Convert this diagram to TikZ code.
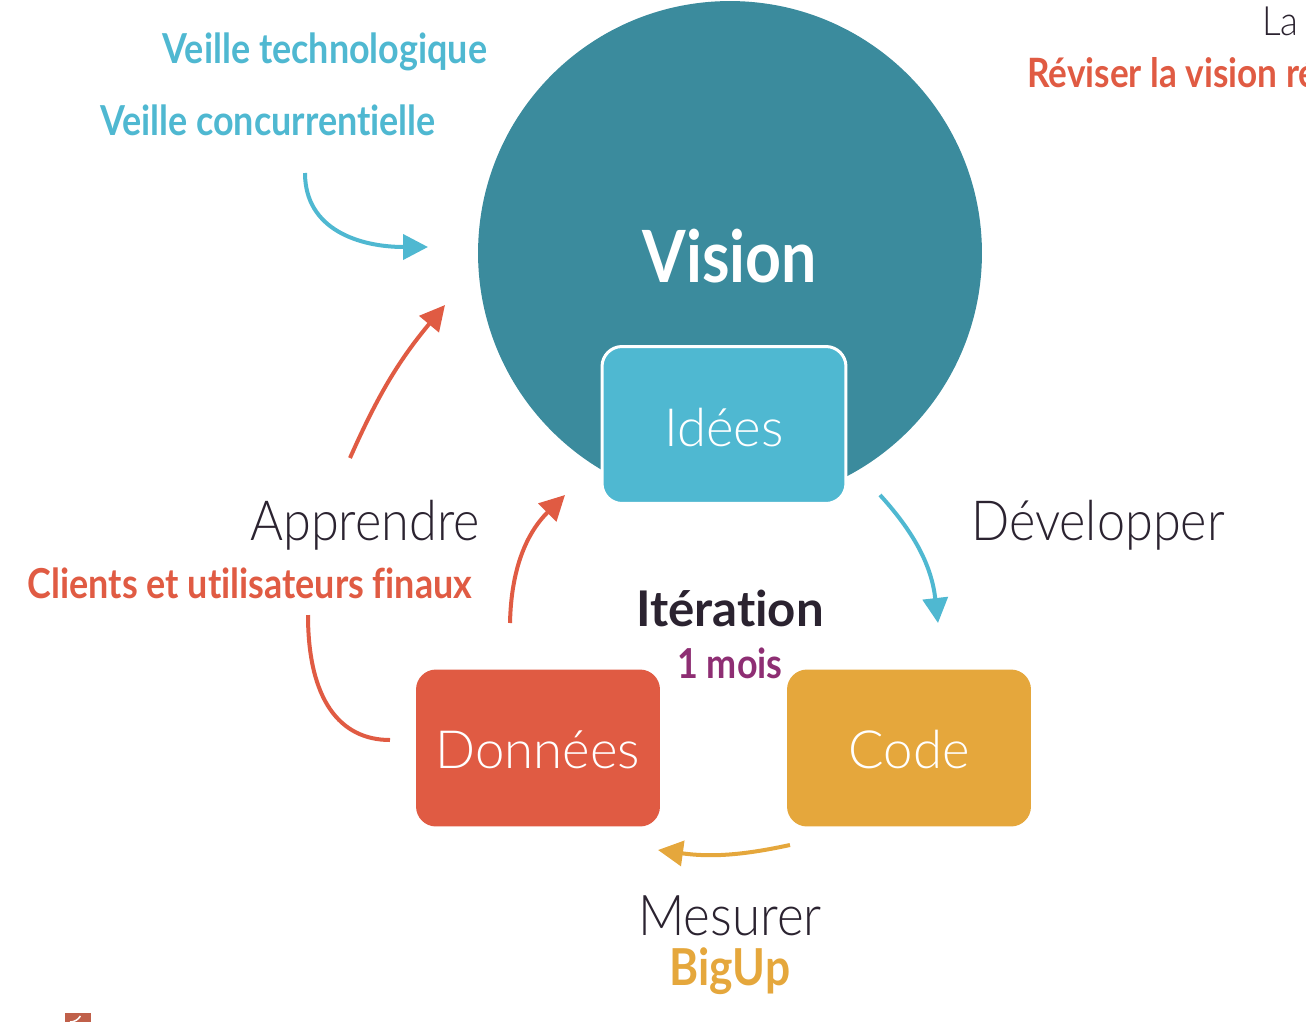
\documentclass[tikz,border=0pt]{standalone}
\usepackage{fontspec}
\setmainfont{Lato}[FakeStretch=0.87,Ligatures=NoCommon]
\newfontfamily\thinfont{Lato Light}[FakeStretch=0.91]
\newfontfamily\boxfont{Lato Light}
\newfontfamily\wideboldfont{Lato}[Ligatures=NoCommon]
\usetikzlibrary{arrows.meta,positioning}
\definecolor{Teal}{HTML}{3B8B9D}
\definecolor{Sky}{HTML}{4FB8D1}
\definecolor{Tomato}{HTML}{E05B43}
\definecolor{Mustard}{HTML}{E5A73C}
\definecolor{Ink}{HTML}{2B2330}
\definecolor{Plum}{HTML}{8E2E73}
\definecolor{Brick}{HTML}{C0604A}
\tikzset{
  thin/.style={font=\thinfont\fontsize{#1}{#1}\selectfont,text=Ink,anchor=base,inner sep=0},
  boxlabel/.style={font=\boxfont\fontsize{30}{30}\selectfont,text=white,anchor=base,inner sep=0},
  heavy/.style={font=\bfseries\fontsize{#1}{#1}\selectfont,anchor=base,inner sep=0},
  tile/.style={rounded corners=0.4cm,minimum width=4.88cm,minimum height=3.14cm,inner sep=0},
  flow/.style={line width=0.08cm,->}
}
\begin{document}
\begin{tikzpicture}[x=0.02cm,y=-0.02cm,>={Triangle[length=0.5cm,width=0.5cm]}]
  \useasboundingbox (0,0) rectangle (1306,1022);
  % vision circle and boxes
  \node[circle,fill=Teal,minimum size=10.08cm,inner sep=0] (vision) at (730,253) {};
  \node[heavy=41,text=white] (vlabel) at (730,282) {Vision};
  \node[tile,fill=Sky,draw=white,line width=0.06cm] (idees) at (724,425) {};
  \node[boxlabel] at (724,446) {Idées};
  \node[tile,fill=Tomato] (donnees) at (538,748) {};
  \node[boxlabel] at (538,768) {Données};
  \node[tile,fill=Mustard] (code) at (909,748) {};
  \node[boxlabel] at (909,768) {Code};
  % centre
  \node[anchor=base,inner sep=0,text=Ink,font=\wideboldfont\bfseries\fontsize{28}{28}\selectfont] (iter) at (730,626) {Itération};
  \node[heavy=23.5,text=Plum] (mois) at (730,678) {1 mois};
  % labels
  \node[thin=31.5] (apprendre) at (365,540) {Apprendre};
  \node[heavy=23.5,text=Tomato] (clients) at (250,598) {Clients et utilisateurs finaux};
  \node[thin=31.5] (dev) at (1098,540) {Développer};
  \node[thin=32] (mesurer) at (730,935) {Mesurer};
  \node[heavy=29,text=Mustard] (bigup) at (730,985) {BigUp};
  \node[heavy=23.5,text=Sky] (techno) at (325,63) {Veille technologique};
  \node[heavy=23.5,text=Sky] (concur) at (268,135) {Veille concurrentielle};
  \node[thin=23,anchor=base west] (la) at (1262,35) {La};
  \node[heavy=23,text=Tomato,anchor=base west] (reviser) at (1027,87) {Réviser la vision régulièrement};
  % arrows
  \coordinate (c1) at (305,173);  \coordinate (c2) at (428,247);
  \coordinate (r1) at (350,458);  \coordinate (r2) at (445,305);
  \coordinate (r3) at (510,623);  \coordinate (r4) at (565,495);
  \coordinate (r5) at (308,615);  \coordinate (r6) at (390,740);
  \coordinate (d1) at (880,495);  \coordinate (d2) at (938,623);
  \coordinate (m1) at (790,845);  \coordinate (m2) at (658,850);
  \draw[flow,Sky] (c1) .. controls (305,230) and (360,247) .. (c2);
  \draw[flow,Tomato] (r1) to[bend left=8] (r2);
  \draw[flow,Tomato] (r3) to[bend left=22] (r4);
  \draw[line width=0.08cm,Tomato] (r5) .. controls (308,700) and (340,740) .. (r6);
  \draw[flow,Sky] (d1) to[bend left=18] (d2);
  \draw[flow,Mustard] (m1) to[bend left=10] (m2);
  % corner mark
  \fill[Brick] (65,1013) rectangle (91,1022);
  \draw[white,line width=0.03cm] (70,1022) arc[start angle=90,end angle=30,radius=12];
\end{tikzpicture}
\end{document}
